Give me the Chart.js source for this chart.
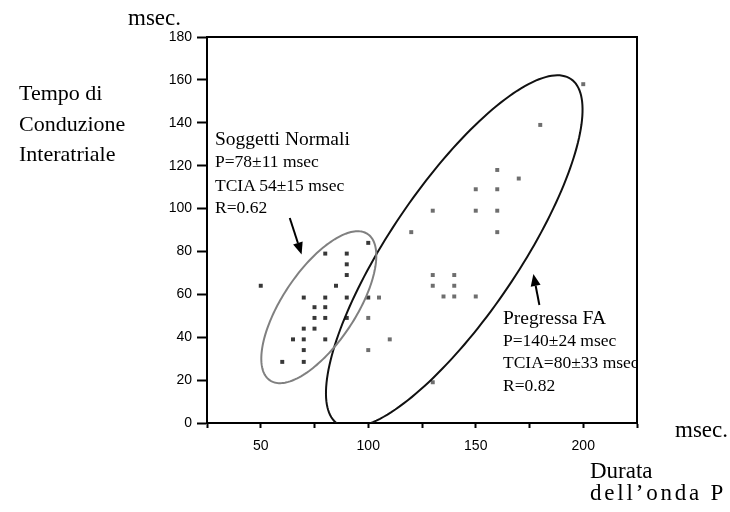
<!DOCTYPE html>
<html>
<head>
<meta charset="utf-8">
<script src="https://cdn.jsdelivr.net/npm/chart.js@4.4.0/dist/chart.umd.min.js"></script>
<style>
  body { margin: 0; background: #fff; }
  #wrap { position: relative; width: 730px; height: 512px; }
  .t { position: absolute; font-family: 'Liberation Serif', 'Times New Roman', serif; line-height: 1; white-space: nowrap; color: #000; }
  .big { font-size: 23px; }
  .lab { font-size: 22px; }
  .head { font-size: 19.5px; }
  .sub { font-size: 17.5px; }
</style>
</head>
<body>
<div id="wrap">
  <canvas id="scatterGraph" width="730" height="512"></canvas>

  <div class="t big" style="left:128px; top:5.7px;">msec.</div>
  <div class="t lab" style="left:19px; top:81.6px;">Tempo di</div>
  <div class="t lab" style="left:19px; top:113.3px;">Conduzione</div>
  <div class="t lab" style="left:19px; top:143.3px;">Interatriale</div>

  <div class="t head" style="left:215px; top:128.7px;">Soggetti Normali</div>
  <div class="t sub" style="left:215px; top:153.3px;">P=78±11 msec</div>
  <div class="t sub" style="left:215px; top:176.8px;">TCIA 54±15 msec</div>
  <div class="t sub" style="left:215px; top:198.8px;">R=0.62</div>

  <div class="t head" style="left:503px; top:307.7px;">Pregressa FA</div>
  <div class="t sub" style="left:503px; top:332.3px;">P=140±24 msec</div>
  <div class="t sub" style="left:503px; top:353.8px;">TCIA=80±33 msec</div>
  <div class="t sub" style="left:503px; top:376.8px;">R=0.82</div>

  <div class="t big" style="left:675px; top:417.7px;">msec.</div>
  <div class="t big" style="left:590px; top:458.7px;">Durata</div>
  <div class="t big" style="left:590px; top:480.7px; letter-spacing:2.8px;">dell’onda P</div>
</div>

<script>
// Soggetti normali (punti scuri)
var normX = [50, 60, 65, 70, 70, 70, 70, 70, 75, 75, 75, 80, 80, 80, 80, 80, 85, 90, 90, 90, 90, 90, 100, 100];
var normY = [64, 28.5, 39, 58.5, 44, 39, 34, 28.5, 54, 49, 44, 79, 58.5, 54, 49, 39, 64, 79, 74, 69, 58.5, 49, 84, 58.5];

// Pregressa FA (punti grigi)
var faX = [100, 100, 105, 110, 120, 130, 130, 130, 130, 135, 140, 140, 140, 150, 150, 150, 160, 160, 160, 160, 170, 180, 200];
var faY = [49, 34, 58.5, 39, 89, 99, 69, 64, 19, 59, 69, 64, 59, 109, 99, 59, 118, 109, 99, 89, 114, 139, 158];

var xTickLabels = [50, 100, 150, 200];
var yTickLabels = [0, 20, 40, 60, 80, 100, 120, 140, 160, 180];

// ellissi e frecce in unita' dei dati
var ellNormal = { cx: 77, cy: 54, a: 41, b: 17, angle: 56.4, color: '#808080' };
var ellFA = { cx: 140, cy: 80, a: 97, b: 30, angle: 56, color: '#111' };
var arrowNormal = { x1: 63.5, y1: 95.6, x2: 69, y2: 78.6 };
var arrowFA = { x1: 179.6, y1: 55, x2: 176.8, y2: 69.5 };

function toPoints(xs, ys){
  var pts = [];
  for (var i = 0; i < xs.length; i++){
    pts.push({ x: xs[i], y: ys[i] });
  }
  return pts;
}

function drawEllipse(ctx, sx, sy, e){
  var th = e.angle * Math.PI / 180;
  ctx.beginPath();
  for (var i = 0; i <= 180; i++){
    var t = i / 180 * Math.PI * 2;
    var dx = e.a * Math.cos(t) * Math.cos(th) - e.b * Math.sin(t) * Math.sin(th);
    var dy = e.a * Math.cos(t) * Math.sin(th) + e.b * Math.sin(t) * Math.cos(th);
    var px = sx.getPixelForValue(e.cx + dx);
    var py = sy.getPixelForValue(e.cy + dy);
    if (i == 0) ctx.moveTo(px, py); else ctx.lineTo(px, py);
  }
  ctx.closePath();
  ctx.strokeStyle = e.color;
  ctx.lineWidth = 2;
  ctx.stroke();
}

function drawArrow(ctx, sx, sy, ar){
  var x1 = sx.getPixelForValue(ar.x1), y1 = sy.getPixelForValue(ar.y1);
  var x2 = sx.getPixelForValue(ar.x2), y2 = sy.getPixelForValue(ar.y2);
  var ang = Math.atan2(y2 - y1, x2 - x1);
  var len = 12, half = 5;
  var bx = x2 - len * Math.cos(ang), by = y2 - len * Math.sin(ang);
  ctx.strokeStyle = '#000';
  ctx.fillStyle = '#000';
  ctx.lineWidth = 2;
  ctx.beginPath();
  ctx.moveTo(x1, y1);
  ctx.lineTo(bx, by);
  ctx.stroke();
  ctx.beginPath();
  ctx.moveTo(x2, y2);
  ctx.lineTo(bx + half * Math.sin(ang), by - half * Math.cos(ang));
  ctx.lineTo(bx - half * Math.sin(ang), by + half * Math.cos(ang));
  ctx.closePath();
  ctx.fill();
}

var overlay = {
  id: 'overlay',
  afterDatasetsDraw: function(chart){
    var ctx = chart.ctx;
    var sx = chart.scales.x, sy = chart.scales.y;
    var a = chart.chartArea;

    ctx.save();
    ctx.beginPath();
    ctx.rect(a.left, a.top, a.right - a.left, a.bottom - a.top);
    ctx.clip();
    drawEllipse(ctx, sx, sy, ellFA);
    drawEllipse(ctx, sx, sy, ellNormal);
    ctx.restore();

    ctx.save();
    drawArrow(ctx, sx, sy, arrowNormal);
    drawArrow(ctx, sx, sy, arrowFA);

    // cornice sopra e a destra
    ctx.strokeStyle = '#000';
    ctx.lineWidth = 2;
    ctx.beginPath();
    ctx.moveTo(a.left, a.top);
    ctx.lineTo(a.right, a.top);
    ctx.lineTo(a.right, a.bottom);
    ctx.stroke();
    ctx.restore();
  }
};

function printScatterGraph(){
  var ctx = document.getElementById('scatterGraph').getContext('2d');
  var tickFont = { family: "'Liberation Sans', Arial, sans-serif", size: 14 };

  var myChart = new Chart(ctx, {
    type: 'scatter',
    data: {
      datasets: [{
        label: 'Soggetti Normali',
        data: toPoints(normX, normY),
        backgroundColor: '#383838'
      }, {
        label: 'Pregressa FA',
        data: toPoints(faX, faY),
        backgroundColor: '#6e6e6e'
      }]
    },
    options: {
      responsive: false,
      animation: false,
      layout: { padding: { left: 150, top: 37, right: 93, bottom: 49 } },
      elements: { point: { pointStyle: 'rect', radius: 2.8, borderWidth: 0, hoverRadius: 2.8 } },
      plugins: { legend: { display: false }, tooltip: { enabled: false } },
      scales: {
        x: {
          type: 'linear',
          min: 25,
          max: 225,
          afterFit: function(scale){ scale.height = 40; },
          border: { color: '#000', width: 2 },
          grid: { drawOnChartArea: false, tickLength: 5, tickColor: '#000', tickWidth: 2 },
          ticks: {
            stepSize: 25,
            color: '#000',
            font: tickFont,
            padding: 10,
            maxRotation: 0,
            autoSkip: false,
            callback: function(v){ return xTickLabels.indexOf(v) >= 0 ? String(v) : ''; }
          }
        },
        y: {
          min: 0,
          max: 180,
          afterFit: function(scale){ scale.width = 57; },
          border: { color: '#000', width: 2 },
          grid: { drawOnChartArea: false, tickLength: 10, tickColor: '#000', tickWidth: 2 },
          ticks: {
            stepSize: 20,
            color: '#000',
            font: tickFont,
            padding: 5,
            autoSkip: false,
            callback: function(v){ return yTickLabels.indexOf(v) >= 0 ? String(v) : ''; }
          }
        }
      }
    },
    plugins: [overlay]
  });
}

printScatterGraph();
</script>
</body>
</html>
